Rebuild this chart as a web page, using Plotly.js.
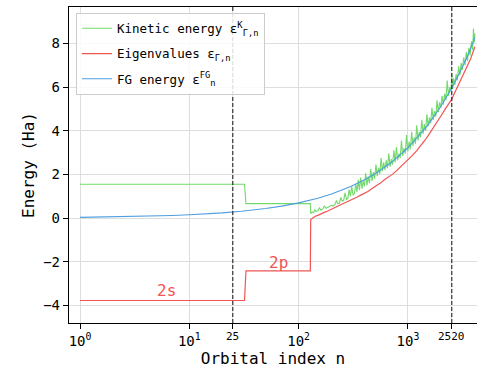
<!DOCTYPE html>
<html>
<head>
<meta charset="utf-8">
<script src="https://cdn.plot.ly/plotly-3.0.1.min.js"></script>
<style>html,body{margin:0;padding:0;background:#fff;}#chart{width:477px;height:378px;}</style>
</head>
<body>
<div id="chart"></div>
<script>
// ---- data ----
const kineticN = [1, 32, 33, 128, 129, 133, 137, 141, 145, 150, 155, 160, 166, 172, 178, 185, 192, 200, 208, 215, 222, 228, 236, 243, 250,
  258, 266, 274, 282, 290, 298, 306, 315, 324, 333, 342, 351, 360, 370, 380, 390, 400, 411, 422, 433, 445, 457, 470, 483, 496, 510, 524, 538, 553, 568, 584, 600,
  616, 633, 650, 668, 686, 705, 724, 744, 764, 785, 806, 828, 850, 873, 897, 921, 946, 972, 998, 1025, 1053, 1082, 1111, 1141, 1172, 1204, 1236, 1270, 1304, 1340, 1376, 1413, 1452, 1491,
  1531, 1573, 1615, 1659, 1704, 1750, 1798, 1847, 1897, 1948, 2001, 2055, 2111, 2168, 2227, 2288, 2350, 2414, 2479, 2520, 2560, 2620, 2690, 2760, 2830, 2910, 2990, 3070, 3150, 3240, 3330, 3420, 3510, 3610, 3710, 3810, 3910, 3980, 4040, 4100];
const kineticE = [1.55, 1.55, 0.66, 0.66, 0.20, 0.28, 0.24, 0.38, 0.30, 0.34, 0.46, 0.36, 0.42, 0.55, 0.45, 0.50, 0.52, 0.58, 0.55, 0.62, 0.80, 0.66, 0.68, 0.95, 0.78,
  0.80, 1.15, 0.85, 0.90, 1.30, 1.00, 1.45, 1.05, 1.12, 1.55, 1.20, 1.75, 1.28, 1.85, 1.35, 1.70, 1.45, 2.05, 1.50, 1.90, 1.60, 2.25, 1.70, 2.10, 1.80, 2.45, 1.92, 2.30, 2.02, 2.75, 2.15, 2.55,
  2.20, 2.65, 2.28, 2.95, 2.35, 2.70, 2.45, 3.10, 2.55, 3.25, 2.65, 2.95, 2.75, 3.55, 2.85, 3.20, 2.95, 3.80, 3.05, 3.50, 3.15, 3.95, 3.30, 3.70, 3.40, 4.25, 3.55, 3.95, 3.70, 4.50, 3.85, 4.30, 4.00, 4.75,
  4.20, 4.60, 4.35, 5.05, 4.50, 4.90, 4.65, 5.40, 4.85, 5.30, 5.05, 5.60, 5.20, 5.70, 5.40, 6.30, 5.60, 6.00, 5.80, 6.63, 5.90, 6.40, 6.10, 6.60, 6.30, 6.95, 6.55, 7.10, 6.80, 7.35, 7.00, 7.60, 7.20, 7.80, 7.45, 8.10, 7.70, 8.68, 8.05, 8.45];

const eigenN = [1, 32, 33, 128, 129, 135, 142, 150, 160, 172, 185, 200, 215, 232, 250, 270, 290, 315, 340, 370, 400, 430, 470, 510, 560, 610, 660, 720, 780, 850, 920, 1000, 1100, 1200, 1320, 1450, 1580, 1720, 1870, 2030, 2200, 2360, 2520, 2700, 2900, 3100, 3300, 3500, 3750, 3950, 4100];
const eigenE = [-3.78, -3.78, -2.42, -2.42, -0.07, 0.00, 0.08, 0.12, 0.20, 0.26, 0.32, 0.42, 0.48, 0.56, 0.63, 0.70, 0.78, 0.87, 0.95, 1.05, 1.12, 1.22, 1.35, 1.46, 1.60, 1.75, 1.86, 2.00, 2.15, 2.32, 2.48, 2.66, 2.87, 3.08, 3.33, 3.60, 3.88, 4.15, 4.44, 4.72, 5.00, 5.25, 5.45, 5.78, 6.10, 6.40, 6.68, 6.95, 7.30, 7.62, 7.85];

const fgN = [1, 2, 3, 5, 7, 10, 15, 20, 30, 40, 50, 70, 100, 150, 200, 300, 400, 500, 700, 1000, 1500, 2000, 2520, 3000, 3500, 4100];
const fgE = [0.03, 0.05, 0.067, 0.094, 0.117, 0.15, 0.196, 0.237, 0.31, 0.377, 0.437, 0.547, 0.695, 0.91, 1.10, 1.44, 1.75, 2.03, 2.53, 3.22, 4.22, 5.11, 5.96, 6.70, 7.40, 8.28];

const markerN = [25, 2520];
const xTickVals = [1, 10, 25, 100, 1000, 2520];
const xTickText = ['10<sup>0</sup>', '10<sup>1</sup>', '', '10<sup>2</sup>', '10<sup>3</sup>', ''];
const yTickVals = [-4, -2, 0, 2, 4, 6, 8];
const yTickText = ['\u22124', '\u22122', '0', '2', '4', '6', '8'];
const shellLabels = ['2s', '2p'];
const shellN = [6.2, 65];
const shellE = [-3.31, -2.02];

// ---- styling ----
const FONT = 'DejaVu Sans Mono, monospace';
const GREEN = '#72d96a', RED = '#f05454', BLUE = '#4f9ee0';
const xRange = [-0.1006, 3.632];
const yRange = [-4.81, 9.67];

const traces = [
  {x: kineticN, y: kineticE, type: 'scatter', mode: 'lines', legendgroup: 'a', name: 'Kinetic energy \u03b5<sup>K</sup><sub>\u0393,n</sub>', line: {color: GREEN, width: 1.1}},
  {x: eigenN, y: eigenE, type: 'scatter', mode: 'lines', legendgroup: 'b', name: 'Eigenvalues \u03b5<sub>\u0393,n</sub>', line: {color: RED, width: 1.2}},
  {x: fgN, y: fgE, type: 'scatter', mode: 'lines', legendgroup: 'c', name: 'FG energy \u03b5<sup>FG</sup><sub>n</sub>', line: {color: BLUE, width: 1.1}}
];
markerN.forEach(n => traces.push({x: [n, n], y: yRange, type: 'scatter', mode: 'lines', legendgroup: 'v', showlegend: false, hoverinfo: 'skip', line: {color: '#222', width: 1.1, dash: '4px,2px'}}));

const annotations = shellLabels.map((t, i) => ({x: Math.log10(shellN[i]), y: shellE[i], xref: 'x', yref: 'y', text: t, showarrow: false, font: {family: FONT, size: 16, color: RED}}));
[25, 2520].forEach(n => annotations.push({x: Math.log10(n), y: -0.016, xref: 'x', yref: 'paper', yanchor: 'top', text: String(n), showarrow: false, font: {family: FONT, size: 11, color: '#000'}}));

const layout = {
  width: 477, height: 378,
  margin: {l: 69, r: 0, t: 7, b: 55},
  paper_bgcolor: '#fff', plot_bgcolor: '#fff',
  font: {family: FONT, color: '#000'},
  showlegend: true,
  legend: {x: 0.017, y: 0.982, xanchor: 'left', yanchor: 'top', bgcolor: 'rgba(255,255,255,0.85)', bordercolor: '#cccccc', borderwidth: 1,
    font: {family: FONT, size: 12.5}, tracegroupgap: 6, itemwidth: 30},
  xaxis: {type: 'log', range: xRange, tickvals: xTickVals, ticktext: xTickText, ticks: 'outside', ticklen: 5, tickwidth: 1, tickcolor: '#000',
    showline: true, linecolor: '#000', linewidth: 1.2, mirror: true, showgrid: true, gridcolor: '#dedede', gridwidth: 1, zeroline: false,
    tickfont: {family: FONT, size: 14}, title: {text: 'Orbital index n', font: {family: FONT, size: 16}, standoff: 3}},
  yaxis: {range: yRange, tickvals: yTickVals, ticktext: yTickText, ticks: 'outside', ticklen: 5, tickwidth: 1, tickcolor: '#000',
    showline: true, linecolor: '#000', linewidth: 1.2, showgrid: true, gridcolor: '#dedede', gridwidth: 1, zeroline: false,
    tickfont: {family: FONT, size: 14}, title: {text: 'Energy (Ha)', font: {family: FONT, size: 16}, standoff: 4}},
  annotations: annotations
};
Plotly.newPlot('chart', traces, layout, {displayModeBar: false, staticPlot: true});
</script>
</body>
</html>
